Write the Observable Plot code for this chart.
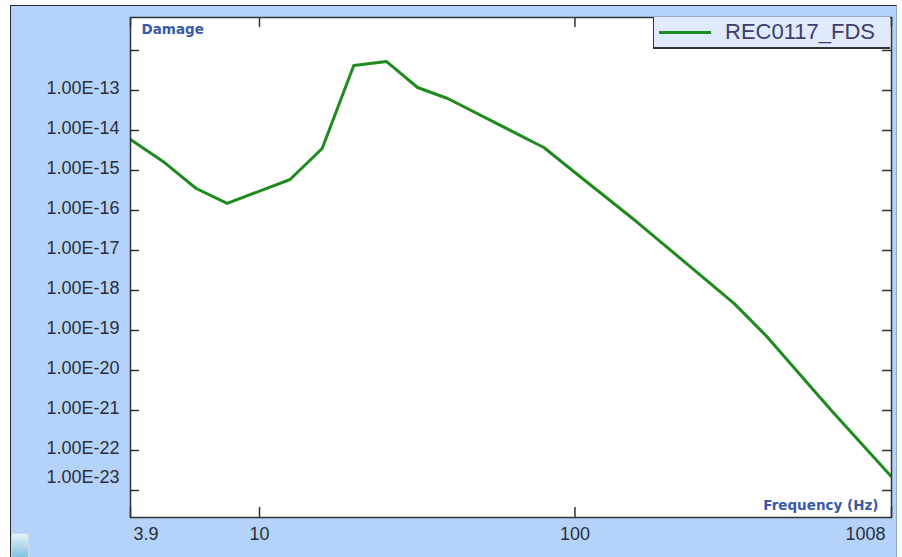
<!DOCTYPE html>
<html>
<head>
<meta charset="utf-8">
<script src="https://cdn.jsdelivr.net/npm/d3@7"></script>
<script src="https://cdn.jsdelivr.net/npm/@observablehq/plot@0.6"></script>
<style>
  html, body { margin: 0; padding: 0; background: #ffffff; }
  #wrap { position: relative; width: 902px; height: 557px; overflow: hidden; }
  #bg { position: absolute; left: 10px; top: 5px; width: 885px; height: 560px;
        background: #b3d3fb; border-left: 1px solid #2a2a2a; border-top: 1px solid #2a2a2a; border-right: 1px solid #8fa6c4; }
  #chart { position: absolute; left: 0; top: 0; }
  #legend { position: absolute; left: 653px; top: 17px; width: 236px; height: 30px;
            background: #dfeafc; border-left: 1px solid #333; border-bottom: 2px solid #333;
            font-family: "Liberation Sans", Arial, sans-serif; font-size: 22px; color: #3c3c6e; }
  #legend .sw { position: absolute; left: 5px; top: 14px; width: 52px; height: 3px; background: #1f8b1f; }
  #legend .lb { position: absolute; left: 71px; top: 2px; white-space: nowrap; }
  #icon { position: absolute; left: 11px; top: 533px; width: 16px; height: 24px;
          background: linear-gradient(#e6f2fa, #7fc0dd); border: 1px solid #c9d9e6; }
</style>
</head>
<body>
<div id="wrap">
  <div id="bg"></div>
  <div id="chart"></div>
  <div id="legend"><div class="sw"></div><div class="lb">REC0117_FDS</div></div>
  <div id="icon"></div>
</div>
<script>
// Data
const freq   = [3.9, 5.0, 6.3, 7.9, 12.5, 15.8, 19.9, 25.3, 31.7, 39.5, 79.7, 100, 158, 320, 403, 650, 1008];
const damage = [5.96e-15, 1.58e-15, 3.55e-16, 1.5e-16, 5.96e-16, 3.55e-15, 4.2e-13, 5.3e-13, 1.19e-13, 6.3e-14, 3.76e-15, 8.9e-16, 5.0e-17, 4.7e-19, 7.5e-20, 1.0e-21, 2.2e-23];
const seriesName = "REC0117_FDS";

const yTickValues = [1e-12, 1e-13, 1e-14, 1e-15, 1e-16, 1e-17, 1e-18, 1e-19, 1e-20, 1e-21, 1e-22, 1e-23];
const yLabelValues = [1e-13, 1e-14, 1e-15, 1e-16, 1e-17, 1e-18, 1e-19, 1e-20, 1e-21, 1e-22];
const yLabels = ["1.00E-13", "1.00E-14", "1.00E-15", "1.00E-16", "1.00E-17", "1.00E-18", "1.00E-19", "1.00E-20", "1.00E-21", "1.00E-22"];
const yLastValue = [1e-23];
const yLastLabel = ["1.00E-23"];

const xTickValues = [3.9, 10, 100, 1008];
const xMidValues = [10, 100];
const xMidLabels = ["10", "100"];
const xFirst = [3.9], xFirstLabel = ["3.9"];
const xLast = [1008], xLastLabel = ["1008"];

const yTitle = "Damage";
const xTitle = "Frequency (Hz)";

const data = freq.map((f, i) => ({f, d: damage[i]}));

const W = 902, H = 557, mL = 130, mR = 11, mT = 17, mB = 40;
const innerW = W - mL - mR, innerH = H - mT - mB;
const tickLen = 9;
const axisColor = "#333";
const labelColor = "#2e2e38";
const titleColor = "#3a5aa8";
const labelFont = 18;

const chart = Plot.plot({
  width: W, height: H,
  marginLeft: mL, marginRight: mR, marginTop: mT, marginBottom: mB,
  style: {background: "transparent", fontFamily: "'Liberation Sans', Arial, sans-serif", fontSize: "18px", color: labelColor},
  x: {type: "log", domain: [3.9, 1008], label: null},
  y: {type: "log", domain: [Math.pow(10, -23.675), Math.pow(10, -11.175)], label: null},
  marks: [
    Plot.frame({fill: "white", stroke: "none"}),
    Plot.line(data, {x: "f", y: "d", stroke: "#1f8b1f", strokeWidth: 3, clip: true, strokeLinejoin: "round"}),
    // ticks pointing inward on all four sides
    Plot.tickY(yTickValues, {y: d => d, insetRight: innerW - tickLen, stroke: axisColor, strokeWidth: 1.5}),
    Plot.tickY(yTickValues, {y: d => d, insetLeft: innerW - tickLen, stroke: axisColor, strokeWidth: 1.5}),
    Plot.tickX(xTickValues, {x: d => d, insetBottom: innerH - 10, stroke: axisColor, strokeWidth: 1.5}),
    Plot.tickX(xTickValues, {x: d => d, insetTop: innerH - 10, stroke: axisColor, strokeWidth: 1.5}),
    Plot.frame({stroke: axisColor, strokeWidth: 1.5}),
    // y labels
    Plot.axisY(yLabelValues, {anchor: "left", tickSize: 0, tickPadding: 11, dy: -2, label: null,
      tickFormat: d => yLabels[yLabelValues.indexOf(d)], fill: labelColor, fontSize: labelFont}),
    Plot.axisY(yLastValue, {anchor: "left", tickSize: 0, tickPadding: 11, dy: -13, label: null,
      tickFormat: d => yLastLabel[yLastValue.indexOf(d)], fill: labelColor, fontSize: labelFont}),
    // x labels
    Plot.axisX(xMidValues, {anchor: "bottom", tickSize: 0, tickPadding: 10, label: null,
      tickFormat: d => xMidLabels[xMidValues.indexOf(d)], fill: labelColor, fontSize: labelFont}),
    Plot.text(xFirst, {x: d => d, frameAnchor: "bottom", dy: 10, dx: 3, lineAnchor: "top", textAnchor: "start",
      text: (d, i) => xFirstLabel[i], fill: labelColor, fontSize: labelFont}),
    Plot.text(xLast, {x: d => d, frameAnchor: "bottom", dy: 10, dx: -6, lineAnchor: "top", textAnchor: "end",
      text: (d, i) => xLastLabel[i], fill: labelColor, fontSize: labelFont}),
    // axis titles inside the frame
    Plot.text([yTitle], {frameAnchor: "top-left", text: d => d, dx: 11, dy: 7, textAnchor: "start", lineAnchor: "top",
      fill: titleColor, fontWeight: "bold", fontSize: 13.5, fontFamily: "'DejaVu Sans', sans-serif"}),
    Plot.text([xTitle], {frameAnchor: "bottom-right", text: d => d, dx: -13, dy: -8, textAnchor: "end", lineAnchor: "bottom",
      fill: titleColor, fontWeight: "bold", fontSize: 13.5, fontFamily: "'DejaVu Sans', sans-serif"})
  ]
});
document.getElementById("chart").appendChild(chart);
document.querySelector("#legend .lb").textContent = seriesName;
</script>
</body>
</html>
